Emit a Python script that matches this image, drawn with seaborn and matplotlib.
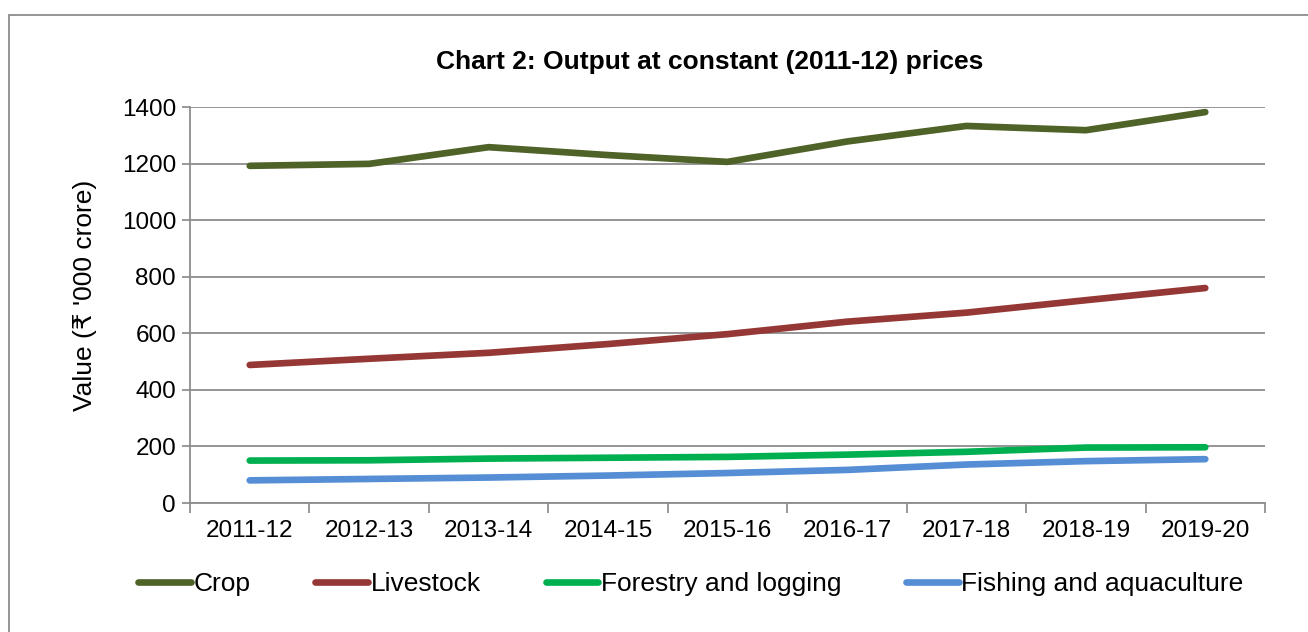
import matplotlib
matplotlib.use("Agg")
import matplotlib.pyplot as plt
import seaborn as sns
import pandas as pd
from matplotlib.patches import Rectangle

years = ["2011-12", "2012-13", "2013-14", "2014-15", "2015-16",
         "2016-17", "2017-18", "2018-19", "2019-20"]
crop = [1192, 1199, 1258, 1230, 1206, 1278, 1333, 1318, 1382]
livestock = [488, 510, 531, 562, 597, 641, 673, 717, 760]
forestry = [150, 151, 157, 160, 163, 171, 181, 196, 197]
fishing = [80, 85, 90, 97, 106, 117, 136, 148, 155]
series_names = ["Crop", "Livestock", "Forestry and logging", "Fishing and aquaculture"]
colors = ["#4F6228", "#953735", "#00B050", "#558ED5"]
yticks = [0, 200, 400, 600, 800, 1000, 1200, 1400]

sns.set_theme(style="white")
plt.rcParams['font.family'] = ['Liberation Sans', 'DejaVu Sans']
plt.rcParams['text.color'] = 'black'
plt.rcParams['xtick.color'] = 'black'
plt.rcParams['ytick.color'] = 'black'
plt.rcParams['axes.labelcolor'] = 'black'

rows = []
for name, vals in zip(series_names, [crop, livestock, forestry, fishing]):
    for y, v in zip(years, vals):
        rows.append({"Year": y, "Value": v, "Series": name})
df = pd.DataFrame(rows)

fig = plt.figure(figsize=(13.08, 6.32), dpi=100)
ax = fig.add_axes([190/1308, 1-503/632, (1265-190)/1308, (503-107)/632])

sns.lineplot(data=df, x="Year", y="Value", hue="Series", palette=colors,
             hue_order=series_names, linewidth=4.8, ax=ax, legend=False,
             solid_capstyle="round")

ax.set_xlim(-0.5, len(years) - 0.5)
ax.set_ylim(0, 1400)
ax.set_yticks(yticks)
ax.set_yticklabels([str(t) for t in yticks], fontsize=17.5)
ax.set_xticks(range(len(years)))
ax.set_xticklabels(years, fontsize=17.5)
ax.tick_params(axis='x', length=0, pad=12)
ax.tick_params(axis='y', length=6, color="#888888", width=1.2, pad=4, left=True)
ax.set_xticks([i - 0.5 for i in range(len(years) + 1)], minor=True)
ax.tick_params(axis='x', which='minor', length=7, color="#888888", width=1.2, bottom=True)

ax.grid(axis='y', color="#8C8C8C", linewidth=1.3)
ax.set_axisbelow(True)
for s in ["top", "right"]:
    ax.spines[s].set_visible(False)
for s in ["left", "bottom"]:
    ax.spines[s].set_color("#8C8C8C")
    ax.spines[s].set_linewidth(1.3)

ax.set_xlabel("")
ax.set_ylabel("Value (₹ '000 crore)", fontsize=19)
ax.yaxis.set_label_coords((85-190)/1075, 0.525)
ax.yaxis.label.set_va("center")

fig.text(710/1308, 1-62/632, "Chart 2: Output at constant (2011-12) prices",
         ha="center", va="center", fontsize=19, fontweight="bold")

handles = [plt.Line2D([], [], color=c, linewidth=4.8, solid_capstyle="round") for c in colors]
fig.legend(handles, series_names, loc="center", bbox_to_anchor=(691/1308, 1-584/632),
           ncol=4, frameon=False, fontsize=19, handlelength=2.0, handletextpad=0.1,
           columnspacing=2.45)

fig.patches.append(Rectangle((9/1308, -0.05), 1.2, 1-15/632+0.05, transform=fig.transFigure,
                             fill=False, edgecolor="#8C8C8C", linewidth=1.3))

fig.savefig("out.png", dpi=100)
